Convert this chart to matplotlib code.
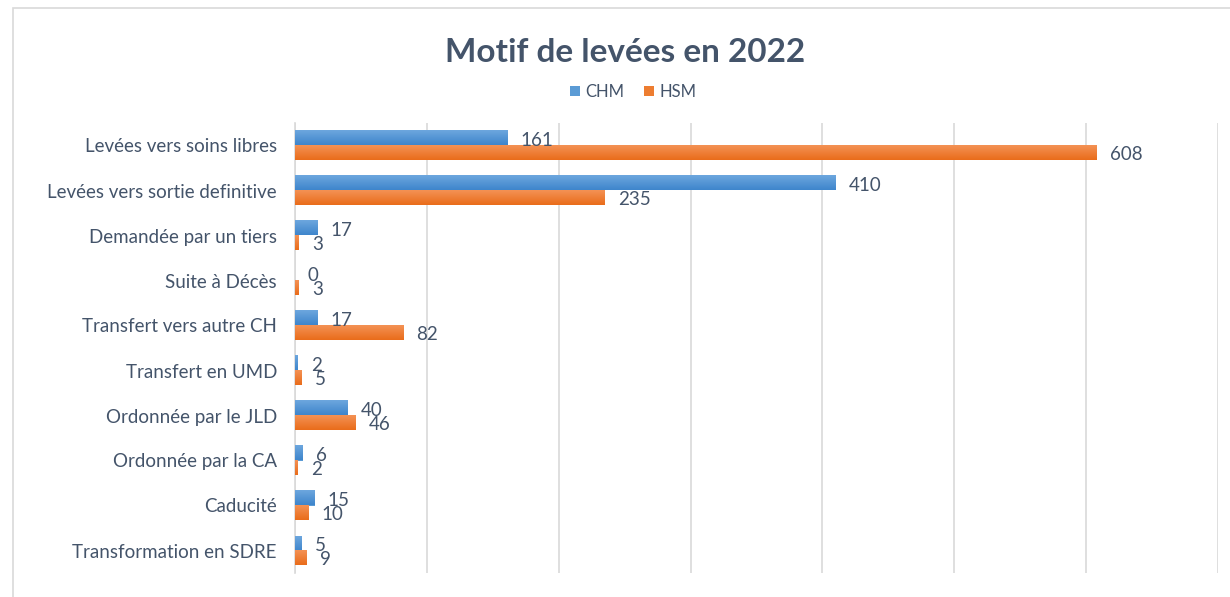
import numpy as np
import matplotlib.pyplot as plt
from matplotlib.patches import Rectangle
from matplotlib.colors import LinearSegmentedColormap

# data
categories = ['Levées vers soins libres', 'Levées vers sortie definitive',
              'Demandée par un tiers', 'Suite à Décès', 'Transfert vers autre CH',
              'Transfert en UMD', 'Ordonnée par le JLD', 'Ordonnée par la CA',
              'Caducité', 'Transformation en SDRE']
chm = [161, 410, 17, 0, 17, 2, 40, 6, 15, 5]
hsm = [608, 235, 3, 3, 82, 5, 46, 2, 10, 9]
series_names = ['CHM', 'HSM']

plt.rcParams['font.family'] = ['Lato', 'DejaVu Sans']
txt = '#44546A'

fig = plt.figure(figsize=(12.3, 5.97), dpi=100)
fig.patch.set_facecolor('white')
# chart frame (runs off right/bottom edge like in the screenshot)
fig.patches.append(Rectangle((13 / 1230, -0.1), 1.2, 0.1 + 1 - 8 / 597,
                             transform=fig.transFigure, fill=False,
                             edgecolor='#D9D9D9', lw=1.2))

ax = fig.add_axes([295 / 1230, 1 - 573 / 597, (1218 - 295) / 1230, 450 / 597])

y = np.arange(len(categories))
h = 0.333
b1 = ax.barh(y - h / 2, chm, height=h, color='#5B9BD5', label=series_names[0])
b2 = ax.barh(y + h / 2, hsm, height=h, color='#ED7D31', label=series_names[1])

# gradient fill like Excel
cm_blue = LinearSegmentedColormap.from_list('b', ['#6DA7DE', '#3E85CC'])
cm_orng = LinearSegmentedColormap.from_list('o', ['#F49255', '#E96C1A'])
grad = np.linspace(0, 1, 64).reshape(-1, 1)
for bars, cm in [(b1, cm_blue), (b2, cm_orng)]:
    for p in bars:
        x0, y0, w, hh = p.get_x(), p.get_y(), p.get_width(), p.get_height()
        if w <= 0:
            continue
        ax.imshow(grad, cmap=cm, aspect='auto', zorder=3,
                  extent=(x0, x0 + w, y0 + hh, y0), interpolation='bicubic')

ax.set_xlim(0, 700)
ax.set_ylim(len(categories) - 0.5, -0.5)
ax.set_xticks(range(0, 701, 100))
ax.set_xticklabels([])
ax.tick_params(axis='x', length=0)
ax.tick_params(axis='y', length=0, pad=13, labelsize=13.5, labelcolor=txt)
ax.set_yticks(y)
ax.set_yticklabels(categories)
ax.grid(axis='x', color='#D9D9D9', lw=1.2, zorder=0)
ax.set_axisbelow(True)
for s in ['top', 'right', 'bottom']:
    ax.spines[s].set_visible(False)
ax.spines['left'].set_color('#D9D9D9')
ax.spines['left'].set_linewidth(1.2)

for bars, vals in [(b1, chm), (b2, hsm)]:
    for p, v in zip(bars, vals):
        ax.annotate(str(v), (p.get_width(), p.get_y() + p.get_height() / 2),
                    xytext=(13, -2), textcoords='offset pixels',
                    ha='left', va='center', fontsize=13.5, color=txt, zorder=5)

fig.text(0.508, 1 - 52 / 597, 'Motif de levées en 2022', ha='center', va='center',
         fontsize=24, fontweight='bold', color=txt)
fig.legend(handles=[b1, b2], loc='center', bbox_to_anchor=(0.515, 1 - 92 / 597),
           ncol=2, frameon=False, fontsize=12, labelcolor=txt,
           handlelength=0.6, handleheight=0.6, handletextpad=0.3, columnspacing=1.2)

fig.savefig('out.png', dpi=100)
